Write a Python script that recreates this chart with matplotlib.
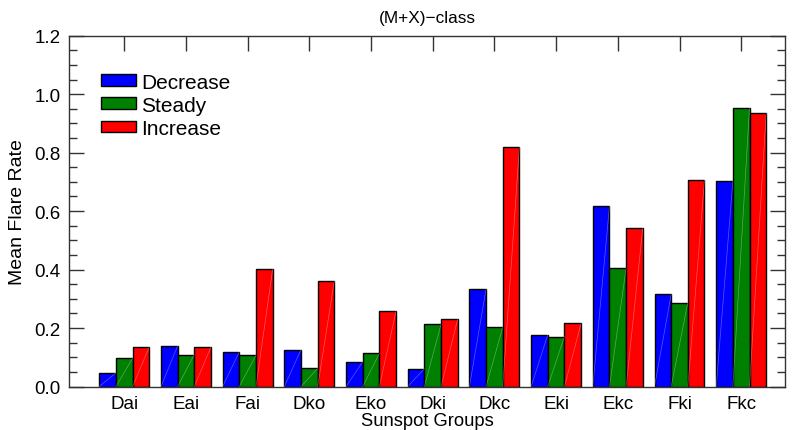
import matplotlib
matplotlib.use("Agg")
import matplotlib.pyplot as plt
import numpy as np
from matplotlib.ticker import MultipleLocator, FormatStrFormatter

plt.rcParams['font.family'] = ['Liberation Sans', 'DejaVu Sans']

groups = ["Dai", "Eai", "Fai", "Dko", "Eko", "Dki", "Dkc", "Eki", "Ekc", "Fki", "Fkc"]
decrease = [0.047, 0.139, 0.119, 0.126, 0.085, 0.061, 0.334, 0.177, 0.618, 0.315, 0.702]
steady = [0.097, 0.109, 0.107, 0.062, 0.113, 0.213, 0.203, 0.171, 0.405, 0.287, 0.954]
increase = [0.135, 0.135, 0.401, 0.362, 0.257, 0.231, 0.818, 0.216, 0.543, 0.706, 0.934]
series_names = ["Decrease", "Steady", "Increase"]
colors = ["#0000ff", "#008000", "#ff0000"]

fig = plt.figure(figsize=(7.92, 4.31), dpi=100)
ax = fig.add_axes([69/792, 1 - 387.5/431, 716/792, 350.8/431])

x = np.arange(len(groups))
w = 0.27
for i, (vals, name, c) in enumerate(zip([decrease, steady, increase], series_names, colors)):
    bars = ax.bar(x + (i - 1) * w, vals, width=w, color=c, edgecolor="black",
                  linewidth=1.0, label=name, zorder=2)
    for b in bars:
        x0, y0 = b.get_x(), b.get_y()
        ax.plot([x0, x0 + b.get_width()], [y0, y0 + b.get_height()],
                color="white", lw=0.5, alpha=0.35, zorder=3)

ax.set_xlim(-0.896, 10.71)
ax.set_ylim(0, 1.2)
ax.set_xticks(x)
ax.set_xticklabels(groups)
ax.yaxis.set_major_locator(MultipleLocator(0.2))
ax.yaxis.set_minor_locator(MultipleLocator(0.05))
ax.yaxis.set_major_formatter(FormatStrFormatter('%.1f'))
ax.tick_params(axis='both', which='major', direction='in', length=11, width=1,
               labelsize=13.5, top=True, right=True, color='#333333')
ax.tick_params(axis='y', which='minor', direction='in', length=6, width=1,
               right=True, color='#333333')
ax.tick_params(axis='x', which='major', pad=6)
ax.tick_params(axis='y', which='major', pad=6)
for s in ax.spines.values():
    s.set_linewidth(1.0)
    s.set_color('#333333')

ax.set_xlabel("Sunspot Groups", fontsize=13.2, labelpad=0)
ax.set_ylabel("Mean Flare Rate", fontsize=14, labelpad=6)
ax.set_title("(M+X)\u2212class", fontsize=12.4, pad=10)

leg = ax.legend(loc="upper left", bbox_to_anchor=(0.045, 0.895), frameon=False,
                fontsize=15, handlelength=1.68, handleheight=0.48,
                handletextpad=0.25, labelspacing=0.2, borderaxespad=0,
                borderpad=0)

fig.savefig("out.png", dpi=100)
